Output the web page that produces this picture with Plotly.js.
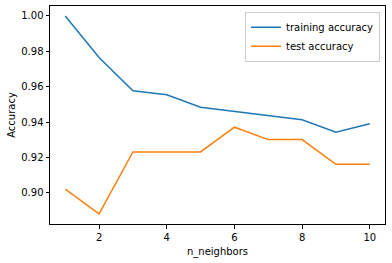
<!DOCTYPE html>
<html>
<head>
<meta charset="utf-8">
<script src="https://cdn.plot.ly/plotly-3.0.1.min.js"></script>
<style>html,body{margin:0;padding:0;background:#fff;}</style>
</head>
<body>
<div id="chart" style="width:392px;height:263px;"></div>
<script>
const neighbors = [1, 2, 3, 4, 5, 6, 7, 8, 9, 10];
const trainingAccuracy = [1.0, 0.9765, 0.9577, 0.9554, 0.9484, 0.9460, 0.9437, 0.9413, 0.9343, 0.9390];
const testAccuracy = [0.9021, 0.8881, 0.9231, 0.9231, 0.9231, 0.9371, 0.9301, 0.9301, 0.9161, 0.9161];
const yTicks = [0.90, 0.92, 0.94, 0.96, 0.98, 1.00];
const xTicks = [2, 4, 6, 8, 10];

const font = {family: "DejaVu Sans", size: 10, color: "#000"};
const traces = [
  {x: neighbors, y: trainingAccuracy, mode: "lines", name: "training accuracy",
   line: {color: "#1f77b4", width: 1.5}},
  {x: neighbors, y: testAccuracy, mode: "lines", name: "test accuracy",
   line: {color: "#ff7f0e", width: 1.5}}
];
const axisCommon = {
  showgrid: false, zeroline: false, showline: true, mirror: true,
  linecolor: "#000", linewidth: 1, ticks: "outside", ticklen: 3.5,
  tickcolor: "#000", tickwidth: 1, tickfont: font
};
const layout = {
  width: 392, height: 263,
  margin: {l: 50, r: 7, t: 6, b: 39},
  paper_bgcolor: "#fff", plot_bgcolor: "#fff",
  font: font,
  showlegend: true,
  legend: {x: 0.985, y: 0.974, xanchor: "right", yanchor: "top",
    bgcolor: "rgba(255,255,255,0.8)", bordercolor: "#cccccc", borderwidth: 1,
    font: font, tracegroupgap: 0},
  xaxis: Object.assign({}, axisCommon, {
    range: [0.55, 10.45], tickvals: xTicks, ticktext: xTicks.map(String),
    title: {text: "n_neighbors", font: font, standoff: 6}
  }),
  yaxis: Object.assign({}, axisCommon, {
    range: [0.8824, 1.0056], tickvals: yTicks, ticktext: yTicks.map(v => v.toFixed(2)),
    title: {text: "Accuracy", font: font, standoff: 3}
  })
};
Plotly.newPlot("chart", traces, layout, {displayModeBar: false, staticPlot: true});
</script>
</body>
</html>
